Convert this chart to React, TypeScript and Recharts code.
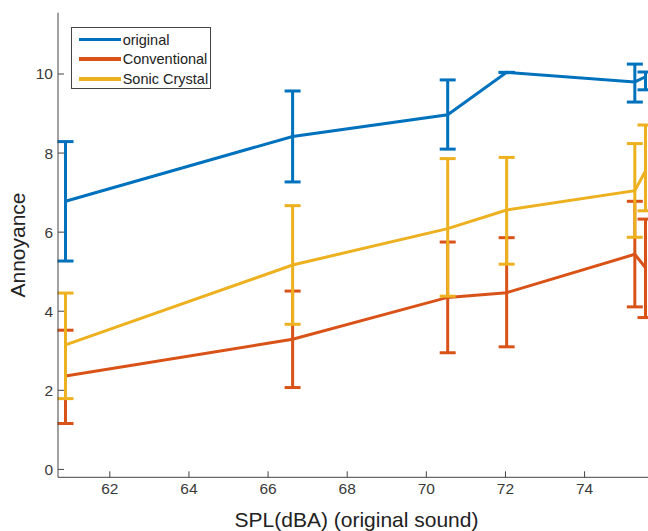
import { LineChart, Line, XAxis, YAxis, ErrorBar, Legend } from 'recharts';

// SPL of the original sound (dBA)
const spl = [60.88, 66.62, 70.54, 72.03, 75.27, 75.54];

// mean annoyance + upper / lower end of the error bars
const original = [6.78, 8.42, 8.97, 10.04, 9.8, 9.93];
const originalHi = [8.29, 9.57, 9.85, 10.04, 10.25, 10.05];
const originalLo = [5.27, 7.27, 8.1, 10.04, 9.29, 9.6];

const conventional = [2.36, 3.29, 4.35, 4.47, 5.44, 5.1];
const conventionalHi = [3.52, 4.51, 5.75, 5.86, 6.78, 6.33];
const conventionalLo = [1.16, 2.07, 2.95, 3.1, 4.11, 3.84];

const sonic = [3.15, 5.17, 6.09, 6.56, 7.05, 7.55];
const sonicHi = [4.46, 6.67, 7.86, 7.89, 8.24, 8.71];
const sonicLo = [1.79, 3.67, 4.38, 5.19, 5.87, 6.54];

const xTicks = [62, 64, 66, 68, 70, 72, 74];
const yTicks = [0, 2, 4, 6, 8, 10];

const SERIES = [
  { key: 'original', name: 'original', color: '#0072BD' },
  { key: 'conventional', name: 'Conventional', color: '#D95319' },
  { key: 'sonic', name: 'Sonic Crystal', color: '#EDB120' },
];

const data = spl.map((x, i) => ({
  x,
  original: original[i],
  originalErr: [original[i] - originalLo[i], originalHi[i] - original[i]],
  conventional: conventional[i],
  conventionalErr: [conventional[i] - conventionalLo[i], conventionalHi[i] - conventional[i]],
  sonic: sonic[i],
  sonicErr: [sonic[i] - sonicLo[i], sonicHi[i] - sonic[i]],
}));

const FONT = '"Liberation Sans", Arial, Helvetica, sans-serif';
const AXIS = '#444';
const TEXT = '#3a3a3a';

function LegendBox() {
  return (
    <div
      style={{
        border: `1px solid ${AXIS}`,
        background: 'white',
        width: 140,
        height: 62,
        boxSizing: 'border-box',
        paddingTop: 2,
        fontFamily: FONT,
        fontSize: 14.5,
        color: '#222',
      }}
    >
      {SERIES.map((s) => (
        <div key={s.key} style={{ display: 'flex', alignItems: 'center', height: 19.7 }}>
          <div style={{ width: 42, height: 3.5, background: s.color, marginLeft: 7, marginRight: 2 }} />
          <span>{s.name}</span>
        </div>
      ))}
    </div>
  );
}

export default function App() {
  return (
    <div
      style={{
        position: 'absolute',
        left: 0,
        top: 0,
        width: 648,
        height: 531,
        overflow: 'hidden',
        background: 'white',
      }}
    >
      <LineChart
        width={700}
        height={531}
        data={data}
        margin={{ top: 12.7, right: 45, bottom: 0, left: 0 }}
      >
        <XAxis
          dataKey="x"
          type="number"
          domain={[60.69, 75.78]}
          ticks={xTicks}
          allowDataOverflow
          height={53.7}
          stroke={AXIS}
          tickSize={-6}
          tickMargin={12}
          tick={{ fill: TEXT, fontSize: 15.5, fontFamily: FONT }}
          label={{
            value: 'SPL(dBA) (original sound)',
            position: 'insideBottom',
            offset: 4,
            fill: '#222',
            fontSize: 21,
            fontFamily: FONT,
          }}
        />
        <XAxis
          xAxisId="top"
          dataKey="x"
          type="number"
          orientation="top"
          domain={[60.69, 75.78]}
          ticks={xTicks}
          allowDataOverflow
          height={0}
          stroke={AXIS}
          tickSize={-6}
          tickFormatter={() => ''}
        />
        <YAxis
          type="number"
          domain={[-0.2, 11.55]}
          ticks={yTicks}
          allowDataOverflow
          width={58}
          stroke={AXIS}
          tickSize={-6}
          tickMargin={11}
          tick={{ fill: TEXT, fontSize: 15.5, fontFamily: FONT }}
          label={{
            value: 'Annoyance',
            angle: -90,
            position: 'insideLeft',
            offset: 18,
            fill: '#222',
            fontSize: 21,
            fontFamily: FONT,
            style: { textAnchor: 'middle' },
          }}
        />
        <Legend
          layout="vertical"
          align="center"
          verticalAlign="middle"
          wrapperStyle={{ top: 26.7, left: 70.7, width: 140, height: 62 }}
          content={() => <LegendBox />}
        />
        {SERIES.map((s) => (
          <Line
            key={s.key}
            dataKey={s.key}
            name={s.name}
            type="linear"
            stroke={s.color}
            strokeWidth={3}
            dot={false}
            activeDot={false}
            isAnimationActive={false}
          >
            <ErrorBar
              dataKey={`${s.key}Err`}
              direction="y"
              width={8}
              stroke={s.color}
              strokeWidth={3}
              isAnimationActive={false}
            />
          </Line>
        ))}
      </LineChart>
    </div>
  );
}
